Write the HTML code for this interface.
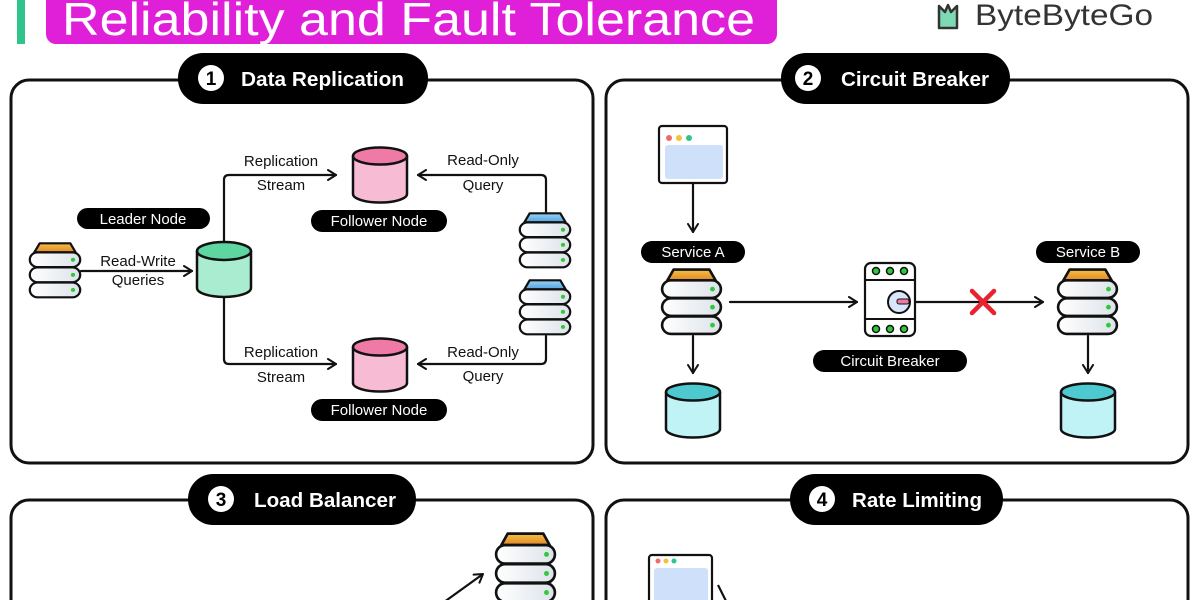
<!DOCTYPE html>
<html><head><meta charset="utf-8"><style>
html,body{margin:0;padding:0;background:#fff;width:1200px;height:600px;overflow:hidden}
svg{display:block}
text{font-family:"Liberation Sans",sans-serif}
</style></head><body>
<svg width="1200" height="600" viewBox="0 0 1200 600" xmlns="http://www.w3.org/2000/svg">
<defs>
<linearGradient id="og" x1="0" y1="0" x2="0" y2="1"><stop offset="0" stop-color="#f7c043"/><stop offset="1" stop-color="#e0892a"/></linearGradient>
<linearGradient id="bg" x1="0" y1="0" x2="0" y2="1"><stop offset="0" stop-color="#9fd3f5"/><stop offset="1" stop-color="#4ea3e0"/></linearGradient>
<linearGradient id="rg" x1="0" y1="0" x2="1" y2="0"><stop offset="0" stop-color="#fff"/><stop offset="1" stop-color="#dde3ea"/></linearGradient>
<symbol id="so" viewBox="0 0 60 66" preserveAspectRatio="none">
<polygon points="13,1.5 47,1.5 53,12 7,12" fill="url(#og)" stroke="#111" stroke-width="2.5" stroke-linejoin="round"/>
<rect x="2" y="12" width="56" height="17" rx="8.5" fill="url(#rg)" stroke="#111" stroke-width="2.5"/>
<rect x="2" y="29.5" width="56" height="17" rx="8.5" fill="url(#rg)" stroke="#111" stroke-width="2.5"/>
<rect x="2" y="47" width="56" height="17" rx="8.5" fill="url(#rg)" stroke="#111" stroke-width="2.5"/>
<circle cx="50" cy="20.5" r="2.3" fill="#2fc83a"/><circle cx="50" cy="38" r="2.3" fill="#2fc83a"/><circle cx="50" cy="55.5" r="2.3" fill="#2fc83a"/>
</symbol>
<symbol id="sb" viewBox="0 0 60 66" preserveAspectRatio="none">
<polygon points="13,1.5 47,1.5 53,12 7,12" fill="url(#bg)" stroke="#111" stroke-width="2.5" stroke-linejoin="round"/>
<rect x="2" y="12" width="56" height="17" rx="8.5" fill="url(#rg)" stroke="#111" stroke-width="2.5"/>
<rect x="2" y="29.5" width="56" height="17" rx="8.5" fill="url(#rg)" stroke="#111" stroke-width="2.5"/>
<rect x="2" y="47" width="56" height="17" rx="8.5" fill="url(#rg)" stroke="#111" stroke-width="2.5"/>
<circle cx="50" cy="20.5" r="2.3" fill="#2fc83a"/><circle cx="50" cy="38" r="2.3" fill="#2fc83a"/><circle cx="50" cy="55.5" r="2.3" fill="#2fc83a"/>
</symbol>
<marker id="ah" viewBox="0 0 12 12" refX="10" refY="6" markerWidth="12" markerHeight="12" markerUnits="userSpaceOnUse" orient="auto">
<path d="M2,1 L10,6 L2,11" fill="none" stroke="#111" stroke-width="2" stroke-linecap="round" stroke-linejoin="round"/>
</marker>
</defs>

<!-- header -->
<rect x="17" y="0" width="8" height="44" fill="#2fc48a"/>
<rect x="46" y="-12" width="731" height="56" rx="10" fill="#e01fd8"/>
<text x="62" y="35" font-size="46" fill="#fff" textLength="693" lengthAdjust="spacingAndGlyphs">Reliability and Fault Tolerance</text>
<g transform="translate(937,2)">
<path d="M2,4 L2,26 L20,26 L20,4 L14,10 L11,3 L8,10 Z" fill="#7fd9b4" stroke="#333" stroke-width="2.5" stroke-linejoin="round"/>
</g>
<text x="975" y="25" font-size="30" fill="#333" textLength="178" lengthAdjust="spacingAndGlyphs">ByteByteGo</text>

<!-- panels -->
<g fill="none" stroke="#111" stroke-width="3">
<rect x="11" y="80" width="582" height="383" rx="18"/>
<rect x="606" y="80" width="582" height="383" rx="18"/>
<rect x="11" y="500" width="582" height="140" rx="18"/>
<rect x="606" y="500" width="582" height="140" rx="18"/>
</g>
<g font-weight="bold" font-size="20" fill="#fff">
<rect x="178" y="53" width="250" height="51" rx="25" fill="#000"/>
<circle cx="211" cy="78" r="13" fill="#fff"/><text x="211" y="85" font-size="19" fill="#000" text-anchor="middle">1</text>
<text x="241" y="86" textLength="163" lengthAdjust="spacingAndGlyphs">Data Replication</text>
<rect x="781" y="53" width="229" height="51" rx="25" fill="#000"/>
<circle cx="808" cy="78" r="13" fill="#fff"/><text x="808" y="85" font-size="19" fill="#000" text-anchor="middle">2</text>
<text x="841" y="86" textLength="148" lengthAdjust="spacingAndGlyphs">Circuit Breaker</text>
<rect x="188" y="474" width="228" height="51" rx="25" fill="#000"/>
<circle cx="221" cy="499" r="13" fill="#fff"/><text x="221" y="506" font-size="19" fill="#000" text-anchor="middle">3</text>
<text x="254" y="507" textLength="142" lengthAdjust="spacingAndGlyphs">Load Balancer</text>
<rect x="790" y="474" width="213" height="51" rx="25" fill="#000"/>
<circle cx="822" cy="499" r="13" fill="#fff"/><text x="822" y="506" font-size="19" fill="#000" text-anchor="middle">4</text>
<text x="852" y="507" textLength="130" lengthAdjust="spacingAndGlyphs">Rate Limiting</text>
</g>

<!-- panel 1 -->
<use href="#so" x="28" y="242" width="54" height="57"/>
<use href="#sb" x="518" y="212" width="54" height="57"/>
<use href="#sb" x="518" y="279" width="54" height="57"/>
<g fill="none" stroke="#111" stroke-width="2.2" stroke-linecap="round">
<line x1="81" y1="271" x2="192" y2="271" marker-end="url(#ah)"/>
<path d="M224,241 V180 Q224,175 229,175 H336" marker-end="url(#ah)"/>
<path d="M224,297 V359 Q224,364 229,364 H336" marker-end="url(#ah)"/>
<path d="M546,212 V180 Q546,175 541,175 H418" marker-end="url(#ah)"/>
<path d="M546,336 V359 Q546,364 541,364 H418" marker-end="url(#ah)"/>
</g>
<!-- cylinders -->
<g stroke="#111" stroke-width="2.5">
<path d="M197,251 V288 A27,9 0 0 0 251,288 V251" fill="#a9ecd0"/><ellipse cx="224" cy="251" rx="27" ry="9" fill="#5fd6a0"/>
<path d="M353,156 V194 A27,8.5 0 0 0 407,194 V156" fill="#f8bbd4"/><ellipse cx="380" cy="156" rx="27" ry="8.5" fill="#f07aa6"/>
<path d="M353,347 V383 A27,8.5 0 0 0 407,383 V347" fill="#f8bbd4"/><ellipse cx="380" cy="347" rx="27" ry="8.5" fill="#f07aa6"/>
<path d="M666,392 V429 A27,8.5 0 0 0 720,429 V392" fill="#bff3f6"/><ellipse cx="693" cy="392" rx="27" ry="8.5" fill="#4fc9d0"/>
<path d="M1061,392 V429 A27,8.5 0 0 0 1115,429 V392" fill="#bff3f6"/><ellipse cx="1088" cy="392" rx="27" ry="8.5" fill="#4fc9d0"/>
</g>
<g font-size="15" fill="#111" text-anchor="middle">
<text x="138" y="266">Read-Write</text><text x="138" y="285">Queries</text>
<text x="281" y="166">Replication</text><text x="281" y="190">Stream</text>
<text x="483" y="165">Read-Only</text><text x="483" y="190">Query</text>
<text x="281" y="357">Replication</text><text x="281" y="382">Stream</text>
<text x="483" y="357">Read-Only</text><text x="483" y="381">Query</text>
</g>
<g font-size="15" fill="#fff" text-anchor="middle">
<rect x="77" y="208" width="133" height="21" rx="10.5" fill="#000"/><text x="143" y="224">Leader Node</text>
<rect x="311" y="210" width="136" height="22" rx="11" fill="#000"/><text x="379" y="226">Follower Node</text>
<rect x="311" y="399" width="136" height="22" rx="11" fill="#000"/><text x="379" y="415">Follower Node</text>
<rect x="641" y="241" width="104" height="22" rx="11" fill="#000"/><text x="693" y="257">Service A</text>
<rect x="1036" y="241" width="104" height="22" rx="11" fill="#000"/><text x="1088" y="257">Service B</text>
<rect x="813" y="350" width="154" height="22" rx="11" fill="#000"/><text x="890" y="366">Circuit Breaker</text>
</g>

<!-- panel 2 -->
<rect x="659" y="126" width="68" height="57" rx="3" fill="#fff" stroke="#111" stroke-width="2.2"/>
<rect x="665" y="145" width="58" height="34" rx="3" fill="#cfe0fb"/>
<circle cx="669" cy="138" r="3" fill="#ef6b6b"/><circle cx="679" cy="138" r="3" fill="#f3c23a"/><circle cx="689" cy="138" r="3" fill="#2fc48a"/>
<use href="#so" x="660" y="268" width="63" height="68"/>
<use href="#so" x="1056" y="268" width="63" height="68"/>
<g fill="none" stroke="#111" stroke-width="2.2" stroke-linecap="round">
<line x1="693" y1="183" x2="693" y2="232" marker-end="url(#ah)"/>
<line x1="730" y1="302" x2="857" y2="302" marker-end="url(#ah)"/>
<line x1="915" y1="302" x2="1043" y2="302" marker-end="url(#ah)"/>
<line x1="693" y1="336" x2="693" y2="373" marker-end="url(#ah)"/>
<line x1="1088" y1="336" x2="1088" y2="373" marker-end="url(#ah)"/>
</g>
<rect x="865" y="263" width="50" height="73" rx="6" fill="#fff" stroke="#111" stroke-width="2.2"/>
<line x1="865" y1="280" x2="915" y2="280" stroke="#111" stroke-width="2"/>
<line x1="865" y1="319" x2="915" y2="319" stroke="#111" stroke-width="2"/>
<g fill="#2fc83a" stroke="#111" stroke-width="1.5">
<circle cx="876" cy="271" r="3.5"/><circle cx="890" cy="271" r="3.5"/><circle cx="904" cy="271" r="3.5"/>
<circle cx="876" cy="329" r="3.5"/><circle cx="890" cy="329" r="3.5"/><circle cx="904" cy="329" r="3.5"/>
</g>
<circle cx="899" cy="302" r="11" fill="#d8e6fb" stroke="#111" stroke-width="2"/>
<rect x="897" y="299" width="12" height="5" rx="2" fill="#f07aa6" stroke="#111" stroke-width="1"/>
<g stroke="#e8232f" stroke-width="4.5" stroke-linecap="round">
<line x1="972" y1="291" x2="994" y2="313"/><line x1="994" y1="291" x2="972" y2="313"/>
</g>

<!-- panel 3 -->
<use href="#so" x="494" y="532" width="63" height="72"/>
<line x1="440" y1="605" x2="483" y2="574" stroke="#111" stroke-width="2.2" marker-end="url(#ah)"/>

<!-- panel 4 -->
<rect x="649" y="555" width="63" height="60" rx="3" fill="#fff" stroke="#111" stroke-width="2.2"/>
<rect x="654" y="568" width="54" height="40" rx="3" fill="#cfe0fb"/>
<circle cx="658" cy="561" r="2.5" fill="#ef6b6b"/><circle cx="666" cy="561" r="2.5" fill="#f3c23a"/><circle cx="674" cy="561" r="2.5" fill="#2fc48a"/>
<line x1="718" y1="585" x2="728" y2="605" stroke="#111" stroke-width="2.2"/>
</svg>
</body></html>
